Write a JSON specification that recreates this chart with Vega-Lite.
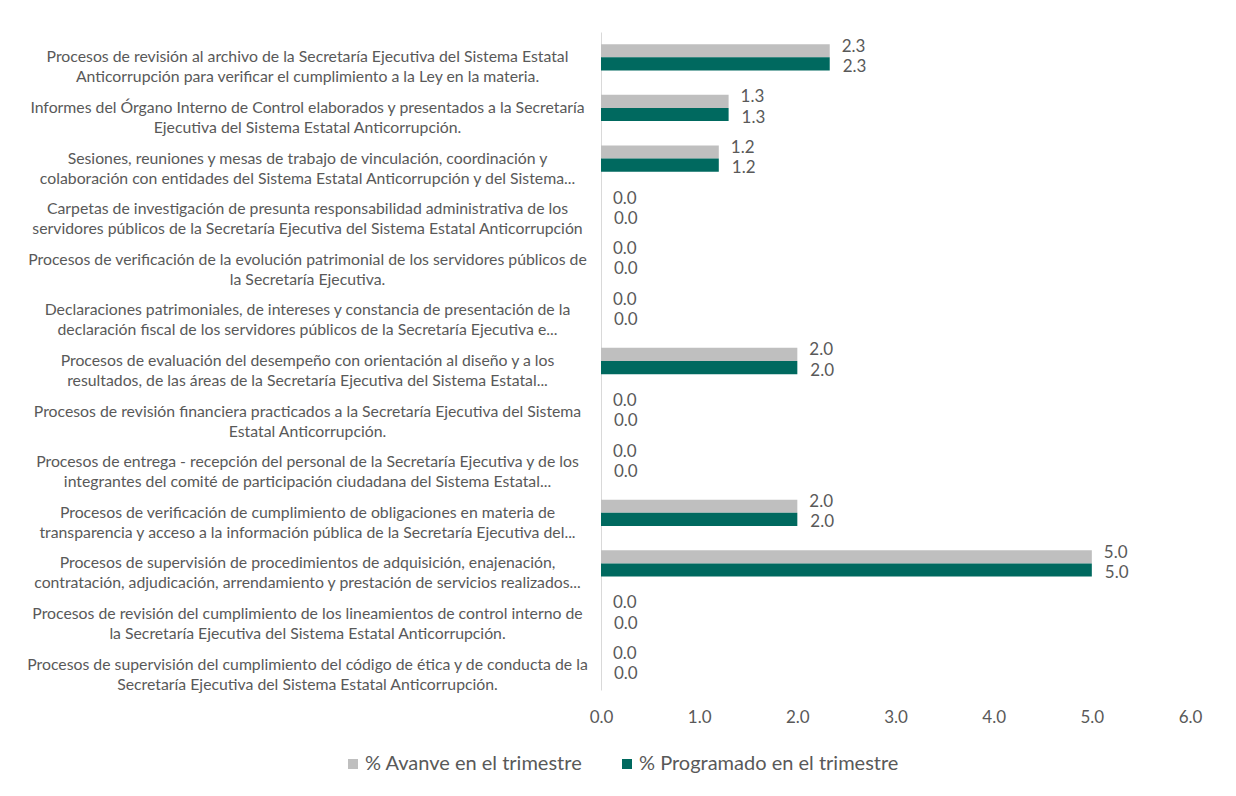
{
  "$schema": "https://vega.github.io/schema/vega-lite/v6.json",
  "width": 589,
  "height": 658,
  "autosize": {"type": "none"},
  "padding": {"left": 601, "top": 32, "right": 46, "bottom": 106},
  "background": "white",
  "config": {
    "view": {"stroke": null},
    "font": "Lato"
  },
  "data": {
    "values": [
      {"cat": "Procesos de revisión al archivo de la Secretaría Ejecutiva del Sistema Estatal\nAnticorrupción para verificar el cumplimiento a la Ley en la materia.", "% Avanve en el trimestre": 2.33, "% Programado en el trimestre": 2.33},
      {"cat": "Informes del Órgano Interno de Control elaborados y presentados a la Secretaría\nEjecutiva del Sistema Estatal Anticorrupción.", "% Avanve en el trimestre": 1.3, "% Programado en el trimestre": 1.3},
      {"cat": "Sesiones, reuniones y mesas de trabajo de vinculación, coordinación y\ncolaboración con entidades del Sistema Estatal Anticorrupción y del Sistema...", "% Avanve en el trimestre": 1.2, "% Programado en el trimestre": 1.2},
      {"cat": "Carpetas de investigación de presunta responsabilidad administrativa de los\nservidores públicos de la Secretaría Ejecutiva del Sistema Estatal Anticorrupción", "% Avanve en el trimestre": 0, "% Programado en el trimestre": 0},
      {"cat": "Procesos de verificación de la evolución patrimonial de los servidores públicos de\nla Secretaría Ejecutiva.", "% Avanve en el trimestre": 0, "% Programado en el trimestre": 0},
      {"cat": "Declaraciones patrimoniales, de intereses y constancia de presentación de la\ndeclaración fiscal de los servidores públicos de la Secretaría Ejecutiva e...", "% Avanve en el trimestre": 0, "% Programado en el trimestre": 0},
      {"cat": "Procesos de evaluación del desempeño con orientación al diseño y a los\nresultados, de las áreas de la Secretaría Ejecutiva del Sistema Estatal...", "% Avanve en el trimestre": 2.0, "% Programado en el trimestre": 2.0},
      {"cat": "Procesos de revisión financiera practicados a la Secretaría Ejecutiva del Sistema\nEstatal Anticorrupción.", "% Avanve en el trimestre": 0, "% Programado en el trimestre": 0},
      {"cat": "Procesos de entrega - recepción del personal de la Secretaría Ejecutiva y de los\nintegrantes del comité de participación ciudadana del Sistema Estatal...", "% Avanve en el trimestre": 0, "% Programado en el trimestre": 0},
      {"cat": "Procesos de verificación de cumplimiento de obligaciones en materia de\ntransparencia y acceso a la información pública de la Secretaría Ejecutiva del...", "% Avanve en el trimestre": 2.0, "% Programado en el trimestre": 2.0},
      {"cat": "Procesos de supervisión de procedimientos de adquisición, enajenación,\ncontratación, adjudicación, arrendamiento y prestación de servicios realizados...", "% Avanve en el trimestre": 5.0, "% Programado en el trimestre": 5.0},
      {"cat": "Procesos de revisión del cumplimiento de los lineamientos de control interno de\nla Secretaría Ejecutiva del Sistema Estatal Anticorrupción.", "% Avanve en el trimestre": 0, "% Programado en el trimestre": 0},
      {"cat": "Procesos de supervisión del cumplimiento del código de ética y de conducta de la\nSecretaría Ejecutiva del Sistema Estatal Anticorrupción.", "% Avanve en el trimestre": 0, "% Programado en el trimestre": 0}
    ]
  },
  "transform": [
    {"fold": ["% Avanve en el trimestre", "% Programado en el trimestre"], "as": ["serie", "valor"]}
  ],
  "encoding": {
    "y": {
      "field": "cat",
      "type": "nominal",
      "sort": null,
      "title": null,
      "scale": {"paddingInner": 0.48, "paddingOuter": 0.24},
      "axis": {
        "labelExpr": "split(datum.value, '\\n')",
        "labelAlign": "center",
        "labelBaseline": "middle",
        "labelPadding": 294,
        "labelLimit": 800,
        "labelFontSize": 15.8,
        "labelLineHeight": 20,
        "labelColor": "#595959",
        "ticks": false,
        "domain": true,
        "domainColor": "#D9D9D9",
        "domainWidth": 1
      }
    },
    "yOffset": {
      "field": "serie",
      "type": "nominal",
      "sort": ["% Avanve en el trimestre", "% Programado en el trimestre"],
      "scale": {"paddingInner": 0, "paddingOuter": 0}
    }
  },
  "layer": [
    {
      "mark": {"type": "bar"},
      "encoding": {
        "x": {
          "field": "valor",
          "type": "quantitative",
          "title": null,
          "scale": {"domain": [0, 6], "nice": false},
          "axis": {
            "values": [0, 1, 2, 3, 4, 5, 6],
            "format": ".1f",
            "grid": false,
            "domain": false,
            "ticks": false,
            "labelFlush": false,
            "labelFontSize": 17,
            "labelColor": "#595959",
            "labelPadding": 19
          }
        },
        "color": {
          "field": "serie",
          "type": "nominal",
          "sort": ["% Avanve en el trimestre", "% Programado en el trimestre"],
          "scale": {"domain": ["% Avanve en el trimestre", "% Programado en el trimestre"], "range": ["#BFBFBF", "#00695F"]},
          "legend": {
            "title": null,
            "orient": "none",
            "direction": "horizontal",
            "legendX": -258,
            "legendY": 722,
            "symbolType": "square",
            "symbolSize": 100,
            "symbolStrokeWidth": 0,
            "labelFontSize": 20,
            "labelLimit": 400,
            "labelColor": "#595959",
            "labelOffset": 2,
            "columnPadding": 34,
            "padding": 0
          }
        }
      }
    },
    {
      "transform": [{"filter": "datum.serie === '% Avanve en el trimestre'"}],
      "mark": {"type": "text", "align": "left", "baseline": "middle", "dx": 12, "dy": -4, "fontSize": 17, "color": "#595959"},
      "encoding": {
        "x": {"field": "valor", "type": "quantitative"},
        "text": {"field": "valor", "type": "quantitative", "format": ".1f"}
      }
    },
    {
      "transform": [{"filter": "datum.serie === '% Programado en el trimestre'"}],
      "mark": {"type": "text", "align": "left", "baseline": "middle", "dx": 13, "dy": 3, "fontSize": 17, "color": "#595959"},
      "encoding": {
        "x": {"field": "valor", "type": "quantitative"},
        "text": {"field": "valor", "type": "quantitative", "format": ".1f"}
      }
    }
  ]
}
